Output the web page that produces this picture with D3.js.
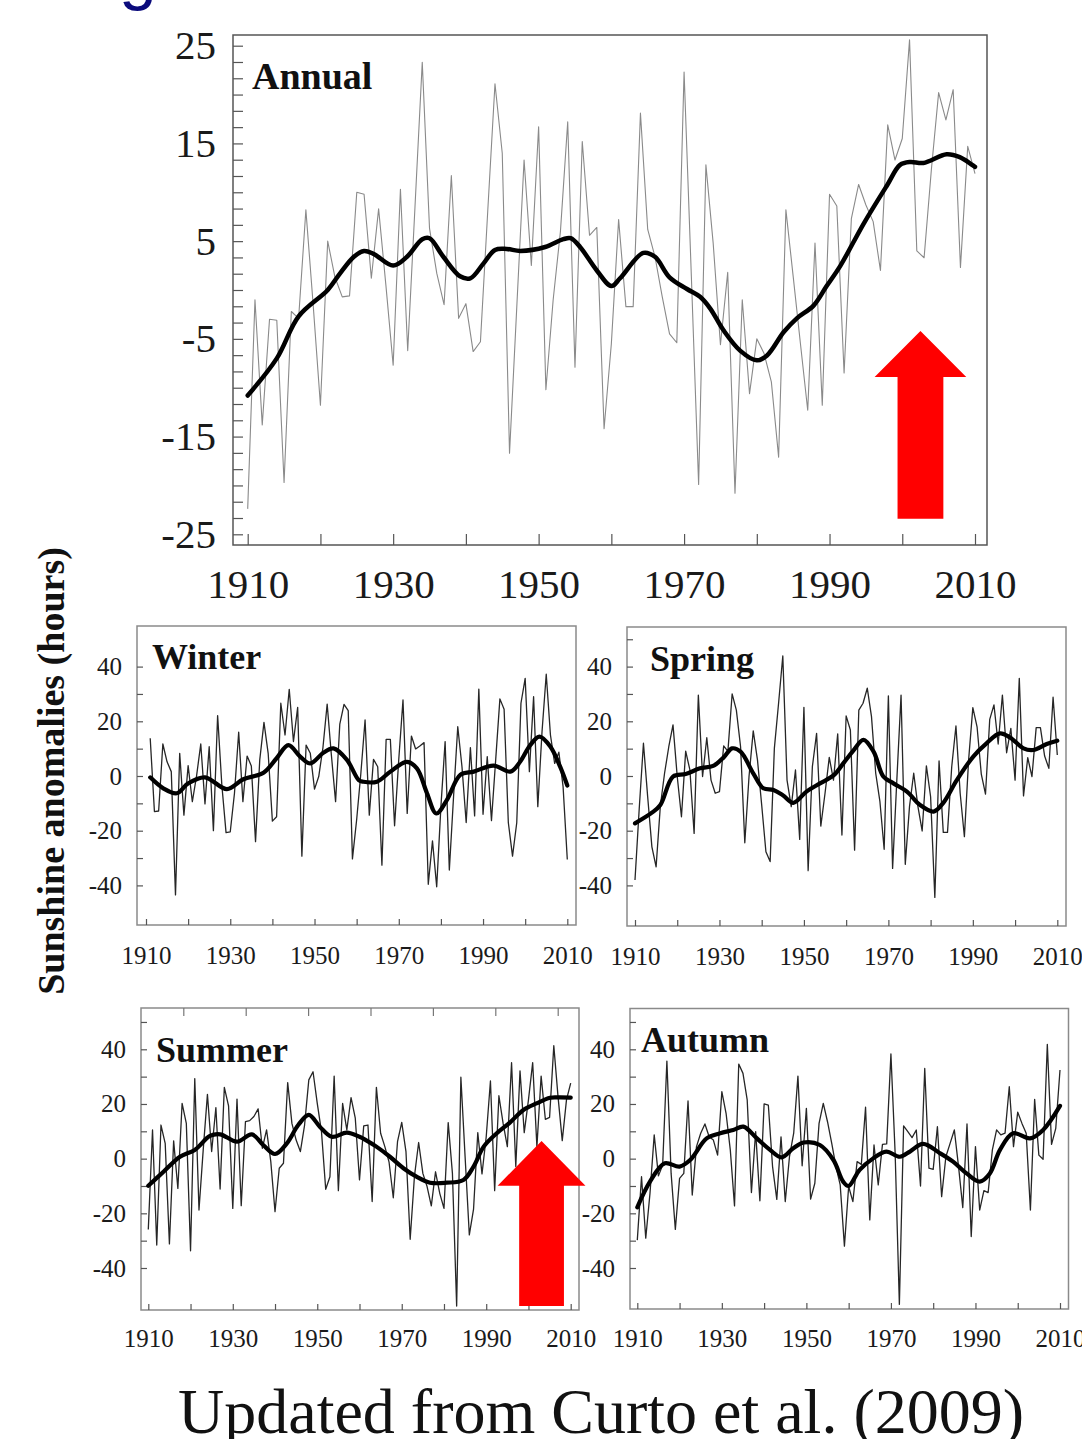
<!DOCTYPE html>
<html><head><meta charset="utf-8">
<script src="https://cdn.jsdelivr.net/npm/d3@7"></script>
<style>html,body{margin:0;padding:0;background:#fff;overflow:hidden}</style>
</head><body>
<svg id="c" width="1082" height="1439"></svg>
<script>
// ---------------- DATA ----------------
const annualStart = 1910;
const annualValues = [-22.4,-1.0,-13.8,-3.0,-3.1,-19.7,-2.2,-2.9,8.2,-1.5,
 -11.8,5.0,1.3,-0.7,-0.6,10.0,9.8,1.2,8.3,0.5,
 -7.7,10.3,-6.2,8.5,23.3,6.3,1.7,-1.5,11.7,-2.9,
 -1.4,-6.3,-5.3,8.0,21.1,14.0,-16.7,-1.7,13.3,2.5,
 16.7,-10.2,-1.0,6.0,17.2,-7.9,15.2,5.6,6.4,-14.2,
 -5.5,7.2,-1.7,-1.7,18.1,6.2,3.4,-0.7,-4.5,-5.4,
 22.3,1.4,-19.9,12.8,4.8,-5.6,1.8,-20.8,-1.0,-10.6,
 -5.0,-6.5,-9.4,-17.1,8.2,1.4,-5.5,-12.3,4.8,-11.8,
 9.8,8.6,-8.5,7.3,10.8,8.7,7.0,2.0,16.9,13.3,
 15.5,25.6,4.0,3.3,12.3,20.2,17.4,20.5,2.3,14.7,11.9];
const annualSmoothYears = [1910,1914,1917,1921,1922.7,1924.6,1926,1927.3,1930,1931.9,1934,1935,1936.9,1939.2,1940.6,1942.4,1944,1945.6,1947.5,1950.9,1953.4,1954.4,1955.7,1958,1960,1961.2,1964.4,1966,1968,1970.4,1972.2,1973.6,1975.4,1977.7,1980,1981.4,1983.7,1985.5,1987.8,1989.6,1991.5,1994.7,1997.9,1999.7,2001.1,2002.9,2006.1,2007.9,2010];
const annualSmoothValues = [-10.8,-7.0,-2.7,0.0,1.7,3.4,4.0,3.7,2.5,3.4,5.2,5.3,3.4,1.4,1.2,2.7,4.1,4.2,4.0,4.4,5.2,5.3,4.4,2.0,0.4,1.2,3.8,3.4,1.3,0.1,-0.7,-1.9,-4.1,-6.2,-7.2,-6.7,-4.3,-2.9,-1.6,0.4,2.5,6.8,10.7,12.8,13.1,13.0,13.9,13.6,12.6];

const winterStart = 1911;
const winterValues = [13.8,-13.0,-12.8,11.7,5.2,1.6,-43.5,8.3,-14.3,
 3.8,-9.4,0.0,11.7,-10.2,10.7,-20.0,22.1,-3.3,-20.7,
 -20.4,-6.3,16.0,-9.4,7.3,3.7,-24.0,5.9,19.6,8.3,
 -16.5,-14.9,26.6,15.0,31.7,12.6,25.1,-29.3,11.3,8.3,
 -4.8,-0.2,10.4,26.3,7.7,-9.4,19.0,26.2,23.9,-30.3,
 -16.0,1.0,20.5,-14.3,6.1,3.4,-32.6,13.4,13.4,-18.2,
 6.1,27.8,-13.7,14.6,9.9,11.0,12.2,-39.6,-23.7,-40.5,
 -11.2,12.6,-34.4,-7.6,18.0,3.4,-17.0,10.4,-14.6,31.8,
 -14.0,7.1,-16.3,5.9,28.2,24.4,-17.0,-29.3,-17.1,26.6,
 35.7,1.6,29.0,-11.2,16.2,37.2,15.0,4.6,8.7,-3.9,-30.5];
const winterSmoothYears = [1911,1914.1,1917.3,1920,1924,1929.2,1933.1,1937.9,1941,1943.8,1946.6,1949,1952.1,1954.5,1957.7,1960.5,1961.6,1964.8,1968,1971.9,1974.3,1976.7,1978.9,1981.4,1984.6,1987.8,1992.5,1996.5,1998.8,2001.2,2003.4,2006,2008.3,2010];
const winterSmoothValues = [-0.5,-4.5,-6.3,-2.7,-0.5,-4.8,-1.2,1.2,6.5,11.3,7.1,4.6,8.5,10.1,5.9,-1.5,-2.1,-2.1,1.6,5.2,2.8,-6.3,-13.7,-8.8,0.4,1.6,3.8,1.6,5.2,11.3,14.4,10.7,3.4,-3.5];

const springStart = 1910;
const springValues = [-38.0,-12.0,12.0,-7.6,-25.9,-33.2,-11.0,1.0,10.7,18.7,
 -0.2,-14.9,9.1,2.2,-21.0,29.6,-0.2,14.0,-1.5,-6.3,
 -5.7,11.0,9.0,30.0,24.1,10.7,-24.4,-0.2,16.5,5.9,
 -10.6,-27.7,-31.3,10.1,26.6,43.9,-1.5,-11.2,2.2,-23.2,
 25.1,-34.6,3.4,15.6,-18.3,-6.3,6.8,-1.5,15.4,-21.6,
 22.0,16.8,-27.1,24.1,26.6,32.1,21.7,1.0,-9.4,-26.8,
 29.3,-33.8,-1.5,29.6,-32.3,-11.2,1.0,-11.2,-20.1,3.7,
 -7.6,-44.4,5.5,-20.6,-20.6,3.4,18.3,-6.3,-22.2,5.9,
 25.0,18.0,0.7,-6.6,20.7,26.0,11.7,29.6,8.5,17.4,
 -1.5,35.7,-7.3,6.7,-0.2,17.7,17.7,7.3,2.8,28.8,7.7];
const springSmoothYears = [1910,1914,1916,1919,1922,1925.4,1928.5,1931,1933,1935,1938,1940.4,1942.8,1945,1947.5,1950.6,1953.8,1957,1959.5,1961.7,1964.1,1966.5,1968.8,1971.2,1974.4,1977.5,1980.7,1983,1986.2,1990.1,1993.3,1996.4,1998.8,2002,2004.3,2007.5,2010];
const springSmoothValues = [-17.3,-13.4,-10.6,-0.2,0.7,2.8,3.7,6.8,10.1,8.9,1.0,-4.5,-5.1,-7.0,-9.8,-5.7,-2.7,0.2,5.0,9.3,13.2,8.9,-0.2,-2.7,-5.7,-10.6,-13.0,-9.8,-1.5,7.1,12.0,15.6,14.1,10.1,9.5,11.7,12.9];

const summerStart = 1910;
const summerValues = [-25.9,10.5,-31.6,12.3,5.6,-31.2,6.5,-10.9,20.2,12.9,
 -33.7,29.3,-18.8,3.2,23.5,2.6,18.7,-11.1,26.1,19.3,
 -18.2,21.8,-17.2,13.5,13.9,15.4,18.2,3.8,10.5,-1.1,
 -19.4,-3.5,-1.7,27.8,12.9,6.8,2.6,12.3,28.8,31.8,
 20.2,9.9,-11.2,-6.6,30.2,-11.7,20.2,10.5,22.3,14.8,
 -7.8,12.0,12.3,-15.7,26.1,9.3,4.4,-1.3,-14.3,6.2,
 13.3,2.6,-29.5,-6.6,5.9,-5.4,-10.2,-17.3,-4.8,-12.7,
 -18.2,13.2,-5.4,-53.9,29.8,0.7,-27.9,-18.5,9.5,-5.6,
 8.0,28.4,-11.7,23.0,12.9,4.4,35.1,-2.9,32.1,9.5,
 21.5,35.1,4.4,30.2,14.4,15.1,41.3,22.7,6.6,21.5,27.6];
const summerSmoothYears = [1910,1913.6,1917.5,1921,1924.6,1927,1931,1934.5,1937.2,1940,1942.8,1945.5,1948,1950.6,1953.4,1957,1960,1961.5,1964,1967.2,1970.4,1973.5,1976.7,1980.6,1984.6,1987,1989.4,1992.5,1995.6,1998.8,2001.9,2005.1,2007.5,2010];
const summerSmoothValues = [-9.9,-4.8,0.7,3.2,8.3,8.9,6.2,8.9,5.0,1.7,5.6,12.3,16.0,11.7,8.0,9.5,8.0,6.8,4.4,0.7,-3.5,-6.6,-8.8,-8.8,-7.8,-2.9,4.4,9.3,13.2,17.8,20.2,22.3,22.4,22.3];

const autumnStart = 1910;
const autumnValues = [-29.8,-6.6,-29.1,-12.7,8.7,-6.3,-2.3,35.7,-5.4,-25.9,
 -7.2,-5.4,21.1,-13.3,4.4,9.3,12.7,8.0,6.8,1.3,
 24.5,16.6,3.2,-17.3,34.6,31.2,21.5,-12.4,9.9,-15.4,
 20.0,19.6,-2.9,-14.9,8.0,-15.7,0.7,9.3,30.2,-2.6,
 18.4,-14.8,-9.0,12.9,20.2,13.5,5.6,-2.9,-9.6,-32.0,
 -10.2,-15.7,-1.1,-2.1,18.8,-22.4,5.0,-9.6,5.2,5.4,
 38.3,2.0,-53.3,12.0,9.9,7.7,10.5,-10.0,33.0,-3.5,
 -3.9,11.7,-13.9,0.7,5.6,10.5,-2.9,-17.9,12.7,-28.5,
 4.4,-18.8,-11.7,-12.4,3.2,10.5,8.7,9.3,26.3,4.4,
 17.0,12.9,9.3,-18.8,21.7,1.3,-0.2,41.8,5.2,11.1,32.4];
const autumnSmoothYears = [1910,1913,1916.5,1920,1922.5,1926.4,1929.6,1932.7,1935.1,1938.3,1941.4,1944.1,1946.9,1949.3,1953.2,1956.4,1958.7,1960,1962.6,1965.8,1968.9,1972.1,1974.5,1977.6,1981.6,1984.7,1987.9,1991,1993.4,1995.8,1998.9,2002.9,2006,2010];
const autumnSmoothValues = [-17.8,-8.4,-1.7,-2.9,-0.5,7.4,9.3,10.5,11.7,7.4,3.2,0.5,3.8,5.9,5.0,-0.5,-8.4,-10.0,-4.1,0.1,2.6,0.7,2.6,5.4,2.0,-1.1,-5.4,-8.4,-5.4,3.2,9.3,7.4,10.5,19.3];

const panelNames = ["Annual","Winter","Spring","Summer","Autumn"];
const xLabelYears = [1910,1930,1950,1970,1990,2010];
const xTickYears = [1910,1920,1930,1940,1950,1960,1970,1980,1990,2000,2010];
const annualYLabels = [25,15,5,-5,-15,-25];
const seasonYLabels = [40,20,0,-20,-40];
const yAxisTitle = "Sunshine anomalies (hours)";
const sourceText = "Updated from Curto et al. (2009)";

// arrows in data units: [centerYear, apexValue, baseValue, bottomValue, headHalfYears, shaftHalfYears]
const annualArrow = [2002.5, -4.2, -8.9, -23.4, 6.3, 3.15];
const summerArrow = [2003.1, 6.5, -9.9, -53.9, 10.4, 5.3];

// ---------------- DRAW ----------------
const svg = d3.select('#c');
const SERIF = "'Liberation Serif','Times New Roman',serif";

function series(start, vals){ return vals.map((v,i)=>[start+i, v]); }
function knots(ys, vs){ return ys.map((y,i)=>[y, vs[i]]); }

const panels = [
 {name:panelNames[0], frame:[233,35,987,545], xr:[247.7,975], yd:[-25,25], yr:[534.3,45.7],
  data:series(annualStart, annualValues), smooth:knots(annualSmoothYears, annualSmoothValues),
  yMinor:d3.range(0,31).map(k=>-25+k*50/30), yLabels:annualYLabels, yTick:10, xTick:11,
  fs:41, yPad:17, xPad:24, thin:'#8a8a8a', thinW:1.1, smoothW:4.5, nameFs:38, nameXY:[252,89], frameCol:'#555'},
 {name:panelNames[1], frame:[137,626,576,925], xr:[146,567.3], yd:[-40,40], yr:[885.4,666.6],
  data:series(winterStart, winterValues), smooth:knots(winterSmoothYears, winterSmoothValues),
  yMinor:[-40,-30,-20,-10,0,10,20,30,40], yLabels:seasonYLabels, yTick:6, xTick:6,
  fs:25, yPad:15, xPad:21, thin:'#262626', thinW:1.3, smoothW:4.2, nameFs:36, nameXY:[152,669], frameCol:'#8a8a8a'},
 {name:panelNames[2], frame:[627,627,1066,926], xr:[635,1057.3], yd:[-40,40], yr:[885.4,666.6],
  data:series(springStart, springValues), smooth:knots(springSmoothYears, springSmoothValues),
  yMinor:[-40,-30,-20,-10,0,10,20,30,40,50], yLabels:seasonYLabels, yTick:6, xTick:6,
  fs:25, yPad:15, xPad:21, thin:'#262626', thinW:1.3, smoothW:4.2, nameFs:36, nameXY:[650,671], frameCol:'#8a8a8a'},
 {name:panelNames[3], frame:[141,1008,579,1310], xr:[148.3,570.7], yd:[-40,40], yr:[1268,1049.3],
  data:series(summerStart, summerValues), smooth:knots(summerSmoothYears, summerSmoothValues),
  yMinor:[-40,-30,-20,-10,0,10,20,30,40,50], yLabels:seasonYLabels, yTick:6, xTick:6,
  fs:25, yPad:15, xPad:19, thin:'#262626', thinW:1.3, smoothW:4.2, nameFs:36, nameXY:[156,1062], frameCol:'#8a8a8a', topTicks:true},
 {name:panelNames[4], frame:[630,1008.5,1068.5,1309], xr:[637.3,1060], yd:[-40,40], yr:[1268,1049.3],
  data:series(autumnStart, autumnValues), smooth:knots(autumnSmoothYears, autumnSmoothValues),
  yMinor:[-40,-30,-20,-10,0,10,20,30,40,50], yLabels:seasonYLabels, yTick:6, xTick:6,
  fs:25, yPad:15, xPad:20, thin:'#262626', thinW:1.3, smoothW:4.2, nameFs:36, nameXY:[641,1052], frameCol:'#8a8a8a'}
];

panels.forEach((p,pi)=>{
  const g = svg.append('g');
  const x = d3.scaleLinear().domain([1910,2010]).range(p.xr);
  const y = d3.scaleLinear().domain(p.yd).range(p.yr);
  const [fx0,fy0,fx1,fy1] = p.frame;
  p.x = x; p.y = y;

  g.append('rect').attr('x',fx0).attr('y',fy0).attr('width',fx1-fx0).attr('height',fy1-fy0)
    .attr('fill','none').attr('stroke',p.frameCol).attr('stroke-width',1.5);

  g.append('g').attr('transform',`translate(${fx0},0)`)
    .call(d3.axisLeft(y).tickValues(p.yMinor).tickSize(-p.yTick).tickFormat(''))
    .call(s=>{s.select('.domain').remove(); s.selectAll('line').attr('stroke','#555').attr('stroke-width',1.2);});
  g.append('g').attr('transform',`translate(${fx0},0)`)
    .call(d3.axisLeft(y).tickValues(p.yLabels).tickSize(0).tickPadding(p.yPad).tickFormat(d=>String(d)))
    .call(s=>{s.select('.domain').remove(); s.selectAll('text').attr('font-family',SERIF).attr('font-size',p.fs).attr('fill','#1a1a1a');})
    .attr('font-family',SERIF).attr('font-size',p.fs);
  g.append('g').attr('transform',`translate(0,${fy1})`)
    .call(d3.axisBottom(x).tickValues(xTickYears).tickSize(-p.xTick).tickFormat(''))
    .call(s=>{s.select('.domain').remove(); s.selectAll('line').attr('stroke','#555').attr('stroke-width',1.2);});
  g.append('g').attr('transform',`translate(0,${fy1})`)
    .call(d3.axisBottom(x).tickValues(xLabelYears).tickSize(0).tickPadding(p.xPad).tickFormat(d=>String(d)))
    .call(s=>{s.select('.domain').remove(); s.selectAll('text').attr('font-family',SERIF).attr('font-size',p.fs).attr('fill','#1a1a1a');})
    .attr('font-family',SERIF).attr('font-size',p.fs);

  if (p.topTicks){
    const tx = d3.scaleLinear().domain([0,1]).range([183.3,245.7]);
    g.append('g').attr('transform',`translate(0,${fy0})`)
      .call(d3.axisTop(tx).tickValues([0,1,2,3,4,5,6]).tickSize(-8).tickFormat(''))
      .call(s=>{s.select('.domain').remove(); s.selectAll('line').attr('stroke','#777').attr('stroke-width',1.2);});
  }

  g.append('path').datum(p.data)
    .attr('d', d3.line().x(d=>x(d[0])).y(d=>y(d[1])))
    .attr('fill','none').attr('stroke',p.thin).attr('stroke-width',p.thinW).attr('stroke-linejoin','round');
  g.append('path').datum(p.smooth)
    .attr('d', d3.line().x(d=>x(d[0])).y(d=>y(d[1])).curve(d3.curveCatmullRom.alpha(0.5)))
    .attr('fill','none').attr('stroke','#000').attr('stroke-width',p.smoothW).attr('stroke-linecap','round').attr('stroke-linejoin','round');

  g.append('text').attr('x',p.nameXY[0]).attr('y',p.nameXY[1]).text(p.name)
    .attr('font-family',SERIF).attr('font-weight','bold').attr('font-size',p.nameFs).attr('fill','#111');
});

function arrow(p, a){
  const [cy, apex, base, bottom, hh, sh] = a;
  const x = p.x, y = p.y;
  const pts = [[cy,apex],[cy+hh,base],[cy+sh,base],[cy+sh,bottom],[cy-sh,bottom],[cy-sh,base],[cy-hh,base]];
  svg.append('polygon').attr('points', pts.map(q=>`${x(q[0])},${y(q[1])}`).join(' ')).attr('fill','#ff0000');
}
arrow(panels[0], annualArrow);
arrow(panels[3], summerArrow);

svg.append('text').attr('transform','translate(64,771) rotate(-90)').attr('text-anchor','middle')
  .attr('font-family',SERIF).attr('font-weight','bold').attr('font-size',38).attr('fill','#111').text(yAxisTitle);

svg.append('text').attr('x',601).attr('y',1433).attr('text-anchor','middle')
  .attr('font-family',SERIF).attr('font-size',64).attr('fill','#111').text(sourceText);

svg.append('text').attr('x',119).attr('y',-3).attr('font-family',"'Liberation Sans',Arial,sans-serif")
  .attr('font-size',68).attr('fill','#0b0b7c').text('g');
</script>
</body></html>
